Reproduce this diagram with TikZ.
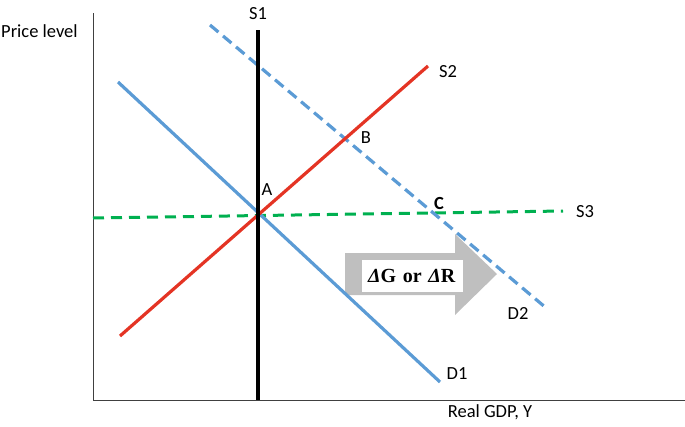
\documentclass[tikz,border=0pt]{standalone}
\usepackage{fontspec}
\setmainfont{Carlito}
\newfontfamily\serifB{Liberation Serif}
\definecolor{dblue}{RGB}{91,155,213}
\definecolor{sred}{RGB}{228,52,36}
\definecolor{sgreen}{RGB}{0,176,80}
\definecolor{agray}{RGB}{191,191,191}
\begin{document}
\begin{tikzpicture}[x=1pt,y=-1pt,
  lbl/.style={font=\fontsize{18.5}{20}\selectfont, inner sep=0pt},
  curve/.style={line width=3.2pt},
  dashcurve/.style={line width=3.2pt, dash pattern=on 11pt off 6pt}]
\useasboundingbox (0,0) rectangle (685,426);
% axes
\coordinate (o) at (93,400);
\coordinate (ytop) at (93,13);
\coordinate (xend) at (685,400);
\draw[line width=0.9pt, black!75] (ytop) -- (o) -- (xend);
\node[lbl, anchor=west] (plab) at (1,31) {Price level};
\node[lbl] (xlab) at (490,412) {Real GDP, Y};
% arrow
\coordinate (a1) at (345,253);
\coordinate (a2) at (455,253);
\coordinate (a3) at (455,234);
\coordinate (a4) at (497,274);
\coordinate (a5) at (455,315);
\coordinate (a6) at (455,295);
\coordinate (a7) at (345,295);
\fill[agray] (a1) -- (a2) -- (a3) -- (a4) -- (a5) -- (a6) -- (a7) -- cycle;
\node[fill=white, text width=101pt, align=left, minimum height=32pt, inner sep=0pt,
  font=\serifB\fontsize{20}{22}\selectfont\bfseries] (dlab) at (412.5,276)
  {\hspace*{6pt}{\itshape Δ}G or {\itshape Δ}R};
% S3 green dashed
\coordinate (s3a) at (93,218);
\coordinate (s3b) at (563,211);
\draw[sgreen, line width=3pt, dash pattern=on 11pt off 7pt] (s3a) -- (s3b);
% D2 dashed
\coordinate (d2a) at (210,25);
\coordinate (d2b) at (545,307);
\draw[dblue, dashcurve] (d2a) -- (d2b);
% D1
\coordinate (d1a) at (118,82);
\coordinate (d1b) at (440,382);
\draw[dblue, curve] (d1a) -- (d1b);
% S2
\coordinate (s2a) at (120,336);
\coordinate (s2b) at (428,66);
\draw[sred, curve] (s2a) -- (s2b);
% S1
\coordinate (s1a) at (258,30);
\coordinate (s1b) at (258,400);
\draw[black, line width=4.5pt] (s1a) -- (s1b);
% labels
\node[lbl] (s1l) at (258,14) {S1};
\node[lbl] (s2l) at (448,72) {S2};
\node[lbl] (s3l) at (585,212) {S3};
\node[lbl] (d1l) at (457,374) {D1};
\node[lbl] (d2l) at (518,313) {D2};
\node[lbl] (al) at (267,190) {A};
\node[lbl] (bl) at (366,138) {B};
\node[lbl, font=\fontsize{18.5}{20}\selectfont\bfseries] (cl) at (439,203) {C};
\end{tikzpicture}
\end{document}
